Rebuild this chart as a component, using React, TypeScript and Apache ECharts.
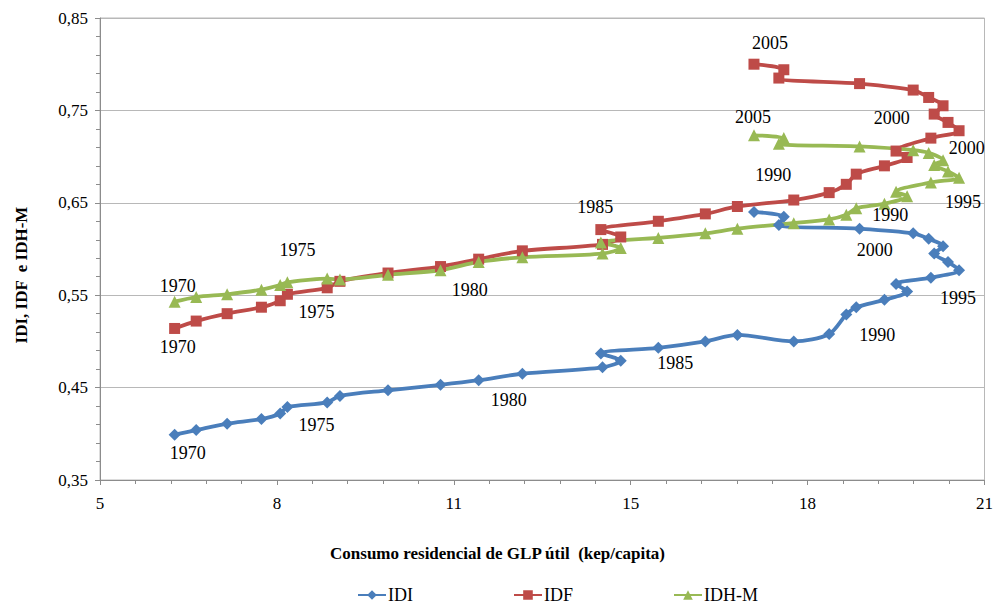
import React, { useEffect, useRef } from "react";
import * as echarts from "echarts";

const years = [1970,1971,1972,1973,1974,1975,1976,1977,1978,1979,1980,1981,1982,1983,1984,1985,1986,1987,1988,1989,1990,1991,1992,1993,1994,1995,1996,1997,1998,1999,2000,2001,2002,2003,2004,2005];

// Consumo residencial de GLP útil (kep/capita)
const glp = [6.35,6.74,7.30,7.92,8.26,8.39,9.11,9.34,10.21,11.16,11.85,12.64,14.09,14.42,14.06,15.10,15.95,16.53,17.55,18.19,18.50,18.68,19.19,19.60,19.40,20.03,20.54,20.34,20.09,20.25,19.99,19.71,18.74,17.28,17.37,16.83];

const idi = [0.399,0.404,0.411,0.416,0.422,0.429,0.434,0.441,0.447,0.453,0.458,0.465,0.472,0.479,0.487,0.493,0.500,0.507,0.500,0.508,0.529,0.537,0.545,0.554,0.562,0.569,0.577,0.586,0.595,0.603,0.611,0.617,0.622,0.626,0.635,0.640];

const idf = [0.514,0.522,0.530,0.537,0.544,0.551,0.558,0.565,0.574,0.581,0.589,0.598,0.605,0.613,0.621,0.630,0.638,0.646,0.653,0.661,0.670,0.681,0.690,0.699,0.706,0.720,0.728,0.737,0.746,0.755,0.764,0.772,0.779,0.785,0.794,0.800];

const idhm = [0.543,0.548,0.551,0.556,0.561,0.564,0.568,0.567,0.572,0.577,0.586,0.591,0.595,0.601,0.607,0.612,0.617,0.622,0.628,0.632,0.637,0.644,0.649,0.657,0.662,0.672,0.677,0.684,0.691,0.696,0.704,0.707,0.711,0.714,0.720,0.723];

const seriesNames = ["IDI", "IDF", "IDH-M"];

// year annotations: [series index, year, label offset x, label offset y]
const yearLabels: [number, number, number, number][] = [
  [0, 1970, 13, 18],
  [0, 1975, 29, 18],
  [0, 1980, 30, 20],
  [0, 1985, 17, 15],
  [0, 1990, 31, 20],
  [0, 1995, 27, 20],
  [0, 2000, -54, 11],
  [1, 1970, 3, 19],
  [1, 1975, 29, 18],
  [1, 1985, -63, -14],
  [1, 1990, -73, -9],
  [1, 2000, -37, 21],
  [1, 2005, 16, -21],
  [2, 1970, 3, -16],
  [2, 1975, 10, -32],
  [2, 1980, -9, 28],
  [2, 1990, 44, 0],
  [2, 1995, 32, 20],
  [2, 2000, 38, -5],
  [2, 2005, -1, -18],
];

const FONT = "Liberation Serif";

function buildData(seriesIdx: number, vals: number[]) {
  return vals.map((v, i) => {
    const lab = yearLabels.find((l) => l[0] === seriesIdx && l[1] === years[i]);
    if (!lab) return { value: [glp[i], v] };
    return {
      value: [glp[i], v],
      label: {
        show: true,
        position: "inside",
        offset: [lab[2], lab[3]],
        formatter: String(years[i]),
        color: "#000",
        fontSize: 18,
        fontFamily: FONT,
      },
    };
  });
}

export default function App() {
  const ref = useRef<HTMLDivElement>(null);
  useEffect(() => {
    if (!ref.current) return;
    const chart = echarts.init(ref.current, undefined, { renderer: "svg" });
    const colors = ["#4A7EBB", "#BE4B48", "#98B954"];
    const symbols = ["diamond", "rect", "triangle"];
    const sizes = [12, 11, 12];
    const vals = [idi, idf, idhm];
    chart.setOption({
      animation: false,
      backgroundColor: "#fff",
      textStyle: { fontFamily: FONT },
      grid: {
        left: 100,
        right: 9,
        top: 18,
        bottom: 128,
        show: true,
        borderColor: "#b8b8b8",
        borderWidth: 1,
      },
      xAxis: {
        type: "value",
        min: 5,
        max: 21,
        interval: 3.2,
        axisLine: { show: true, onZero: false, lineStyle: { color: "#8c8c8c", width: 1 } },
        axisTick: { show: true, length: 5, lineStyle: { color: "#8c8c8c" } },
        minorTick: { show: true, splitNumber: 5, length: 4, lineStyle: { color: "#8c8c8c" } },
        splitLine: { show: false },
        axisLabel: {
          formatter: (v: number) => String(Math.round(v)),
          color: "#000",
          fontSize: 17,
          fontFamily: FONT,
          margin: 15,
        },
      },
      yAxis: {
        type: "value",
        min: 0.35,
        max: 0.85,
        interval: 0.1,
        axisLine: { show: true, lineStyle: { color: "#8c8c8c", width: 1 } },
        axisTick: { show: true, length: 5, lineStyle: { color: "#8c8c8c" } },
        minorTick: { show: true, splitNumber: 5, length: 4, lineStyle: { color: "#8c8c8c" } },
        splitLine: { show: true, lineStyle: { color: "#b8b8b8", width: 1 } },
        axisLabel: {
          formatter: (v: number) => v.toFixed(2).replace(".", ","),
          color: "#000",
          fontSize: 17,
          fontFamily: FONT,
          margin: 12,
        },
      },
      legend: {
        left: 357,
        top: 586,
        padding: 0,
        itemGap: 100,
        itemWidth: 28,
        itemHeight: 12,
        textStyle: { color: "#000", fontSize: 18, fontFamily: FONT, lineHeight: 18, padding: [0, 0, 0, -3] },
        data: seriesNames,
      },
      graphic: [
        {
          type: "text",
          left: "center",
          top: 545,
          style: {
            text: "Consumo residencial de GLP útil  (kep/capita)",
            fontSize: 17,
            fontWeight: "bold",
            fontFamily: FONT,
            fill: "#000",
          },
        },
        {
          type: "text",
          x: 13,
          y: 275,
          rotation: Math.PI / 2,
          style: {
            text: "IDI, IDF  e IDH-M",
            fontSize: 17,
            fontWeight: "bold",
            fontFamily: FONT,
            fill: "#000",
            align: "center",
            verticalAlign: "top",
          },
        },
      ],
      series: vals.map((v, k) => ({
        name: seriesNames[k],
        type: "line",
        data: buildData(k, v),
        smooth: 0.3,
        symbol: symbols[k],
        symbolSize: sizes[k],
        showAllSymbol: true,
        color: colors[k],
        lineStyle: { width: 3.8, color: colors[k] },
        itemStyle: { color: colors[k] },
      })),
    });
    return () => chart.dispose();
  }, []);
  return <div ref={ref} style={{ width: 996, height: 608, position: "absolute", left: 0, top: 0 }} />;
}
